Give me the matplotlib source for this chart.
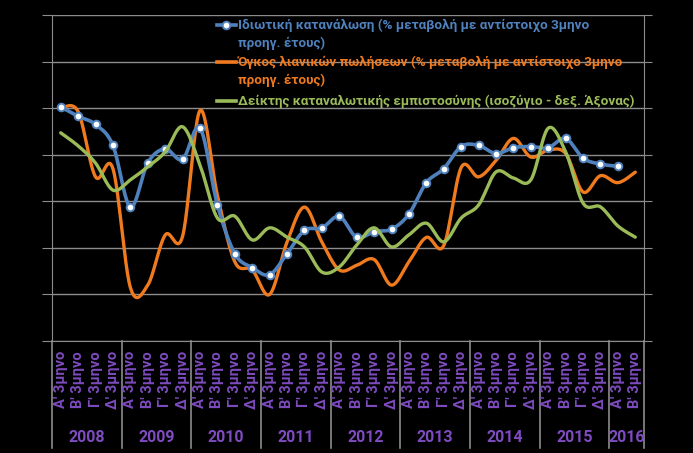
import numpy as np
import matplotlib
matplotlib.use("Agg")
import matplotlib.pyplot as plt
from matplotlib.lines import Line2D
import matplotlib.transforms as mtransforms

plt.rcParams['font.family'] = ['Roboto', 'DejaVu Sans']

# δεδομένα (τιμές εκτιμημένες από το γράφημα)
years = ['2008', '2009', '2010', '2011', '2012', '2013', '2014', '2015', '2016']
quarters = ["Α' 3μηνο", "Β' 3μηνο", "Γ' 3μηνο", "Δ' 3μηνο"]
n_q = 34  # 2008Q1 - 2016Q2
q_labels = [quarters[i % 4] for i in range(n_q)]

consumption = [4.1, 3.3, 2.6, 0.8, -4.5, -0.7, 0.5, -0.4, 2.3, -4.3, -8.5, -9.7,
               -10.3, -8.5, -6.5, -6.3, -5.3, -7.1, -6.6, -6.4, -5.1, -2.4, -1.2, 0.7,
               0.8, 0.1, 0.6, 0.7, 0.6, 1.4, -0.3, -0.8, -1.0]
retail = [4.0, 3.7, -1.9, -1.2, -11.4, -11.2, -6.9, -7.0, 3.8, -3.5, -9.2, -9.9,
          -12.0, -7.5, -4.5, -7.5, -9.9, -9.5, -9.0, -11.2, -9.2, -7.1, -7.8, -1.1,
          -1.9, -0.5, 1.4, -0.2, 0.4, 0.1, -3.2, -1.8, -2.4, -1.5]
confidence = [-45.3, -48.1, -51.8, -57.6, -55.4, -52.6, -49.4, -44.0, -52.2, -63.6, -63.2, -68.3,
              -65.7, -67.7, -69.8, -75.2, -74.1, -69.4, -65.7, -69.8, -67.2, -64.7, -68.7, -63.6,
              -60.8, -53.7, -55.0, -55.4, -44.3, -49.4, -60.4, -61.2, -65.3, -67.7]

lbl_cons = ["Ιδιωτική κατανάλωση (% μεταβολή με αντίστοιχο 3μηνο", "προηγ. έτους)"]
lbl_retail = ["Όγκος λιανικών πωλήσεων (% μεταβολή με αντίστοιχο 3μηνο", "προηγ. έτους)"]
lbl_conf = ["Δείκτης καταναλωτικής εμπιστοσύνης (ισοζύγιο - δεξ. Άξονας)"]

c_blue = '#4F81BD'
c_orange = '#F07A1E'
c_green = '#9BBB59'
c_purple = '#7E4BC0'
c_grid = '#8C8C8C'


def smooth(vals, steps=24):
    # καμπύλη τύπου Excel (Bezier μέσω των σημείων)
    y = np.asarray(vals, dtype=float)
    x = np.arange(len(y), dtype=float)
    xs, ys = [], []
    t = np.linspace(0, 1, steps)
    for i in range(len(y) - 1):
        i0 = max(i - 1, 0)
        i3 = min(i + 2, len(y) - 1)
        px = [x[i], x[i] + (x[i + 1] - x[i0]) / 6, x[i + 1] - (x[i3] - x[i]) / 6, x[i + 1]]
        py = [y[i], y[i] + (y[i + 1] - y[i0]) / 6, y[i + 1] - (y[i3] - y[i]) / 6, y[i + 1]]
        b = [(1 - t) ** 3, 3 * (1 - t) ** 2 * t, 3 * (1 - t) * t ** 2, t ** 3]
        xs.append(sum(bb * p for bb, p in zip(b, px)))
        ys.append(sum(bb * p for bb, p in zip(b, py)))
    return np.concatenate(xs), np.concatenate(ys)


W, H = 693, 453
fig = plt.figure(figsize=(W / 100, H / 100), dpi=100, facecolor='black')
L, R, T, B = 52, 644, 15, 341
ax = fig.add_axes([L / W, 1 - B / H, (R - L) / W, (B - T) / H])
ax.set_facecolor('black')

ax.set_xlim(-0.5, n_q - 0.5)
ax.set_ylim(-16, 12)
ax.set_yticks(np.arange(-16, 13, 4))
ax.yaxis.grid(True, color=c_grid, lw=1)
ax.set_axisbelow(True)
ax.tick_params(axis='y', colors=c_grid, length=7, labelleft=False)
ax.set_xticks([])
for s in ['top', 'right']:
    ax.spines[s].set_visible(False)
for s in ['left', 'bottom']:
    ax.spines[s].set_color(c_grid)

sx, sy = smooth(retail)
ax.plot(sx, sy, color=c_orange, lw=2.4, solid_capstyle='round', zorder=2)
sx, sy = smooth(consumption)
ax.plot(sx, sy, color=c_blue, lw=2.6, solid_capstyle='round', zorder=3)
ax.plot(np.arange(len(consumption)), consumption, ls='none', marker='o', ms=5.5,
        mfc='white', mec=c_blue, mew=1.4, zorder=4)

ax2 = ax.twinx()
ax2.set_ylim(-90, -20)
ax2.set_yticks(np.arange(-90, -19, 10))
ax2.tick_params(axis='y', colors=c_grid, length=6, labelright=False)
for s in ['top', 'left', 'bottom']:
    ax2.spines[s].set_visible(False)
ax2.spines['right'].set_color(c_grid)
sx, sy = smooth(confidence)
ax2.plot(sx, sy, color=c_green, lw=2.4, solid_capstyle='round')

# άξονας κατηγοριών
trans = mtransforms.blended_transform_factory(ax.transData, ax.transAxes)
ph = B - T
for i, lab in enumerate(q_labels):
    ax.text(i, -10 / ph, lab, transform=trans, rotation=90, ha='center', va='top',
            color=c_purple, fontsize=10.5, fontweight='bold')
for k, yr in enumerate(years):
    x0 = k * 4 - 0.5
    x1 = min(x0 + 4, n_q - 0.5)
    ax.text((x0 + x1) / 2, -97 / ph, yr, transform=trans, ha='center', va='center',
            color=c_purple, fontsize=11.5, fontweight='bold')
edges = list(np.arange(-0.5, n_q, 4)) + [n_q - 0.5]
for e in edges:
    ax.add_line(Line2D([e, e], [0, -107 / ph], transform=trans, color=c_grid,
                       lw=1.2, clip_on=False))

# υπόμνημα
def fx(px):
    return px / W


def fy(py):
    return 1 - py / H


entries = [(lbl_cons, c_blue, 25, True), (lbl_retail, c_orange, 62, False),
           (lbl_conf, c_green, 101, False)]
for lines, col, y0, mk in entries:
    fig.add_artist(Line2D([fx(217), fx(236)], [fy(y0), fy(y0)], color=col, lw=2.6,
                          transform=fig.transFigure))
    if mk:
        fig.add_artist(Line2D([fx(226.5)], [fy(y0)], ls='none', marker='o', ms=5.5,
                              mfc='white', mec=col, mew=1.4, transform=fig.transFigure))
    for j, t in enumerate(lines):
        fig.text(fx(238), fy(y0 + 18.5 * j), t, color=col, fontsize=9.7,
                 fontweight='bold', ha='left', va='center')

fig.savefig('out.png', dpi=100, facecolor='black')
